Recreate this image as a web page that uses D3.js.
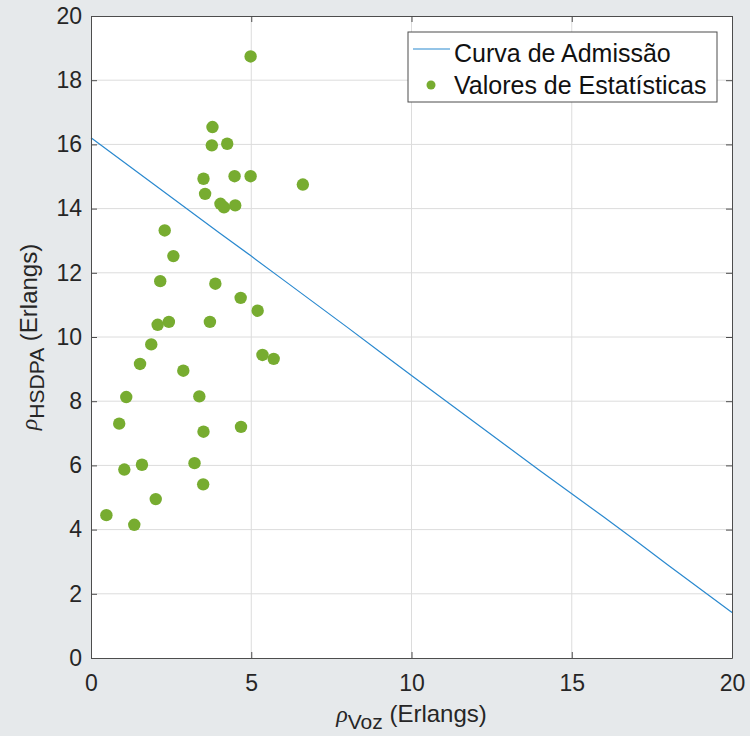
<!DOCTYPE html>
<html>
<head>
<meta charset="utf-8">
<script src="https://cdn.jsdelivr.net/npm/d3@7"></script>
<style>
  body { margin: 0; background: #e6e9eb; }
  svg { display: block; font-family: "Liberation Sans", Arial, sans-serif; }
</style>
</head>
<body>
<script>
const curveX = [0, 1, 2, 3, 4, 5, 6, 7, 8, 9, 10, 11, 12, 13, 14, 15, 16, 17, 18, 19, 20];
const curveY = [16.21, 15.47, 14.73, 13.99, 13.25, 12.52, 11.78, 11.04, 10.30, 9.55, 8.80,
                8.06, 7.32, 6.58, 5.84, 5.12, 4.39, 3.65, 2.90, 2.16, 1.42];

// valores de estatisticas (voz, hsdpa)
const statVoz = [4.98, 3.79, 3.77, 4.25, 3.51, 4.48, 4.98, 6.61, 3.56, 4.04, 4.15, 4.50,
                 2.30, 2.57, 2.16, 3.88, 4.67, 5.20, 2.08, 2.43, 3.71,
                 1.88, 1.53, 2.88, 5.35, 5.70, 1.10, 3.38, 0.88, 3.51, 4.68,
                 1.04, 1.59, 3.23, 3.50, 2.02, 0.48, 1.35];
const statHsdpa = [18.74, 16.54, 15.97, 16.02, 14.93, 15.01, 15.01, 14.75, 14.46, 14.15, 14.04, 14.10,
                   13.32, 12.52, 11.74, 11.66, 11.22, 10.82, 10.38, 10.47, 10.47,
                   9.77, 9.16, 8.95, 9.44, 9.32, 8.13, 8.15, 7.30, 7.05, 7.20,
                   5.87, 6.02, 6.07, 5.41, 4.95, 4.45, 4.15];

const xTicks = [0, 5, 10, 15, 20];
const yTicks = [0, 2, 4, 6, 8, 10, 12, 14, 16, 18, 20];
const legendLabels = ['Curva de Admissão', 'Valores de Estatísticas'];

const W = 750, H = 736;
const m = {left: 91, top: 16, right: 18, bottom: 78};
const iw = W - m.left - m.right, ih = H - m.top - m.bottom;

const lineColor = '#2a89cf';
const dotColor = '#77ac30';
const axisColor = '#4d4d4d';
const textColor = '#262626';

const svg = d3.select('body').append('svg')
    .attr('width', W)
    .attr('height', H);

const g = svg.append('g').attr('transform', `translate(${m.left},${m.top})`);

const x = d3.scaleLinear().domain([0, 20]).range([0, iw]);
const y = d3.scaleLinear().domain([0, 20]).range([ih, 0]);

g.append('rect').attr('width', iw).attr('height', ih).attr('fill', '#fff');

// grade
g.append('g').selectAll('line').data(xTicks.slice(1, -1)).join('line')
    .attr('x1', d => x(d)).attr('x2', d => x(d))
    .attr('y1', 0).attr('y2', ih)
    .attr('stroke', '#dcdcdc').attr('stroke-width', 1);
g.append('g').selectAll('line').data(yTicks.slice(1, -1)).join('line')
    .attr('y1', d => y(d)).attr('y2', d => y(d))
    .attr('x1', 0).attr('x2', iw)
    .attr('stroke', '#dcdcdc').attr('stroke-width', 1);

// curva
const pts = curveX.map((v, i) => [v, curveY[i]]);
g.append('path')
    .datum(pts)
    .attr('fill', 'none')
    .attr('stroke', lineColor)
    .attr('stroke-width', 1.2)
    .attr('d', d3.line().x(d => x(d[0])).y(d => y(d[1])));

// pontos
g.append('g').selectAll('circle')
    .data(statVoz.map((v, i) => [v, statHsdpa[i]]))
    .join('circle')
    .attr('cx', d => x(d[0]))
    .attr('cy', d => y(d[1]))
    .attr('r', 6.2)
    .attr('fill', dotColor);

// eixos (com ticks para dentro, caixa fechada)
const styleAxis = sel => {
    sel.select('.domain').attr('stroke', axisColor);
    sel.selectAll('.tick line').attr('stroke', axisColor);
    sel.selectAll('.tick text').attr('fill', textColor).attr('font-size', 23);
};

g.append('g').attr('transform', `translate(0,${ih})`)
    .call(d3.axisBottom(x).tickValues(xTicks).tickSize(-6).tickSizeOuter(0).tickPadding(17))
    .call(styleAxis);
g.append('g')
    .call(d3.axisLeft(y).tickValues(yTicks).tickSize(-6).tickSizeOuter(0).tickPadding(9))
    .call(styleAxis);
g.append('g')
    .call(d3.axisTop(x).tickValues(xTicks).tickSize(-6).tickSizeOuter(0).tickFormat(''))
    .call(styleAxis);
g.append('g').attr('transform', `translate(${iw},0)`)
    .call(d3.axisRight(y).tickValues(yTicks).tickSize(-6).tickSizeOuter(0).tickFormat(''))
    .call(styleAxis);

// rotulos dos eixos
const xl = svg.append('text')
    .attr('x', m.left + iw / 2).attr('y', 722)
    .attr('text-anchor', 'middle')
    .attr('fill', textColor).attr('font-size', 24);
xl.append('tspan').attr('font-style', 'italic').attr('font-family', 'Liberation Serif').text('ρ');
xl.append('tspan').attr('dy', 7).attr('font-size', 21).text('Voz');
xl.append('tspan').attr('dy', -7).text(' (Erlangs)');

const yl = svg.append('text')
    .attr('transform', `translate(37,${m.top + ih / 2}) rotate(-90)`)
    .attr('text-anchor', 'middle')
    .attr('fill', textColor).attr('font-size', 24);
yl.append('tspan').attr('font-style', 'italic').attr('font-family', 'Liberation Serif').text('ρ');
yl.append('tspan').attr('dy', 7).attr('font-size', 21).text('HSDPA');
yl.append('tspan').attr('dy', -7).text(' (Erlangs)');

// legenda
const lg = svg.append('g').attr('transform', 'translate(408,32)');
lg.append('rect').attr('width', 309).attr('height', 70)
    .attr('fill', '#fff').attr('stroke', axisColor).attr('stroke-width', 1);
lg.append('line').attr('x1', 5).attr('x2', 42).attr('y1', 17).attr('y2', 17)
    .attr('stroke', lineColor).attr('stroke-width', 1.2);
lg.append('circle').attr('cx', 23).attr('cy', 53).attr('r', 4.5).attr('fill', dotColor);
lg.selectAll('text.lab').data(legendLabels).join('text')
    .attr('class', 'lab')
    .attr('x', 46)
    .attr('y', (d, i) => 30 + i * 32)
    .attr('font-size', 25)
    .attr('fill', '#111')
    .text(d => d);
</script>
</body>
</html>
